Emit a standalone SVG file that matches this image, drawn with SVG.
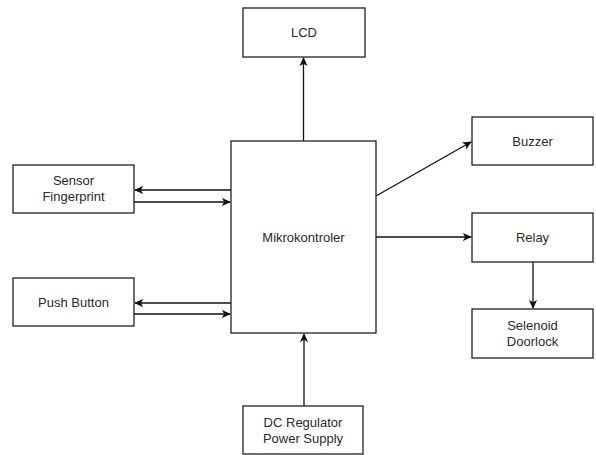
<svg xmlns="http://www.w3.org/2000/svg" width="596" height="455" viewBox="0 0 596 455">
<defs>
<marker id="arr" viewBox="0 0 10 10" refX="9" refY="5" markerWidth="9" markerHeight="9" markerUnits="userSpaceOnUse" orient="auto">
<path d="M0,0.5 L10,5 L0,9.5 L2.5,5 Z" fill="#111"/>
</marker>
<style>
.box{fill:#fff;stroke:#222;stroke-width:1.3}
.lbl{font-family:"Liberation Sans",Arial,sans-serif;font-size:13px;fill:#2a2a2a;text-anchor:middle}
.ln{stroke:#111;stroke-width:1.3;fill:none;marker-end:url(#arr)}
</style>
</defs>
<rect width="596" height="455" fill="#fff"/>
<g id="connectors">
<line class="ln" x1="303.5" y1="141" x2="303.5" y2="58"/>
<line class="ln" x1="376" y1="196" x2="471" y2="142"/>
<line class="ln" x1="376" y1="237" x2="471" y2="237"/>
<line class="ln" x1="533" y1="262" x2="533" y2="308"/>
<line class="ln" x1="304" y1="406" x2="304" y2="334"/>
<line class="ln" x1="231" y1="190" x2="135" y2="190"/>
<line class="ln" x1="134" y1="202" x2="230" y2="202"/>
<line class="ln" x1="231" y1="303" x2="135" y2="303"/>
<line class="ln" x1="134" y1="314" x2="230" y2="314"/>
</g>
<g id="lcd"><rect class="box" x="243" y="8" width="122" height="49"/><text class="lbl" x="304" y="37">LCD</text></g>
<g id="mikrokontroler"><rect class="box" x="231" y="141" width="145" height="192"/><text class="lbl" x="303.5" y="242">Mikrokontroler</text></g>
<g id="buzzer"><rect class="box" x="472" y="117" width="121" height="48"/><text class="lbl" x="532.5" y="146">Buzzer</text></g>
<g id="relay"><rect class="box" x="472" y="213" width="121" height="49"/><text class="lbl" x="532.5" y="242">Relay</text></g>
<g id="selenoid"><rect class="box" x="472" y="309" width="121" height="49"/><text class="lbl" x="532.5" y="330">Selenoid</text><text class="lbl" x="532.5" y="346">Doorlock</text></g>
<g id="sensor"><rect class="box" x="13" y="165" width="121" height="48"/><text class="lbl" x="73.5" y="185">Sensor</text><text class="lbl" x="73.5" y="201">Fingerprint</text></g>
<g id="pushbutton"><rect class="box" x="13" y="278" width="121" height="48"/><text class="lbl" x="73.5" y="307">Push Button</text></g>
<g id="dcregulator"><rect class="box" x="243" y="406" width="120" height="48"/><text class="lbl" x="303" y="427">DC Regulator</text><text class="lbl" x="303" y="443">Power Supply</text></g>
</svg>
